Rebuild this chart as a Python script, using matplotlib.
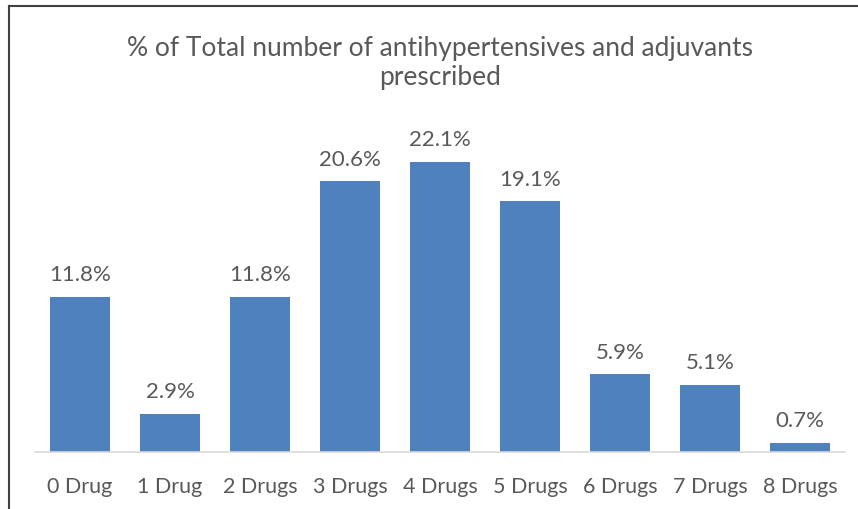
import matplotlib.pyplot as plt

categories = ['0 Drug', '1 Drug', '2 Drugs', '3 Drugs', '4 Drugs',
              '5 Drugs', '6 Drugs', '7 Drugs', '8 Drugs']
percents = [11.8, 2.9, 11.8, 20.6, 22.1, 19.1, 5.9, 5.1, 0.7]

plt.rcParams['font.family'] = ['Lato', 'DejaVu Sans']
text_color = '#595959'

fig = plt.figure(figsize=(8.58, 5.1), dpi=100)
ax = fig.add_axes([35 / 858, 57 / 510, 810 / 858, 328.5 / 510])

x = range(len(categories))
bars = ax.bar(x, percents, width=0.667, color='#4f81bd')
for b, v in zip(bars, percents):
    ax.annotate(f'{v}%', (b.get_x() + b.get_width() / 2, v),
                xytext=(0, 9), textcoords='offset points',
                ha='center', va='bottom', fontsize=16, color=text_color)

ax.set_xlim(-0.5, 8.5)
ax.set_ylim(0, 25)
ax.set_xticks(list(x))
ax.set_xticklabels(categories, fontsize=15.5, color=text_color)
ax.tick_params(axis='x', length=0, pad=17)
ax.set_yticks([])
for s in ['top', 'right', 'left']:
    ax.spines[s].set_visible(False)
ax.spines['bottom'].set_color('#d9d9d9')
ax.spines['bottom'].set_linewidth(1.2)

fig.text(440 / 858, 1 - 63 / 510,
         '% of Total number of antihypertensives and adjuvants\nprescribed',
         ha='center', va='center', fontsize=19, color=text_color,
         linespacing=1.2)

# outer frame (top and left edges visible in the reference)
fig.add_artist(plt.Line2D([9 / 858, 1], [1 - 7 / 510, 1 - 7 / 510],
                          color='#404040', lw=1.5, transform=fig.transFigure))
fig.add_artist(plt.Line2D([9 / 858, 9 / 858], [0, 1 - 7 / 510],
                          color='#404040', lw=1.5, transform=fig.transFigure))

fig.savefig('out.png', dpi=100)
